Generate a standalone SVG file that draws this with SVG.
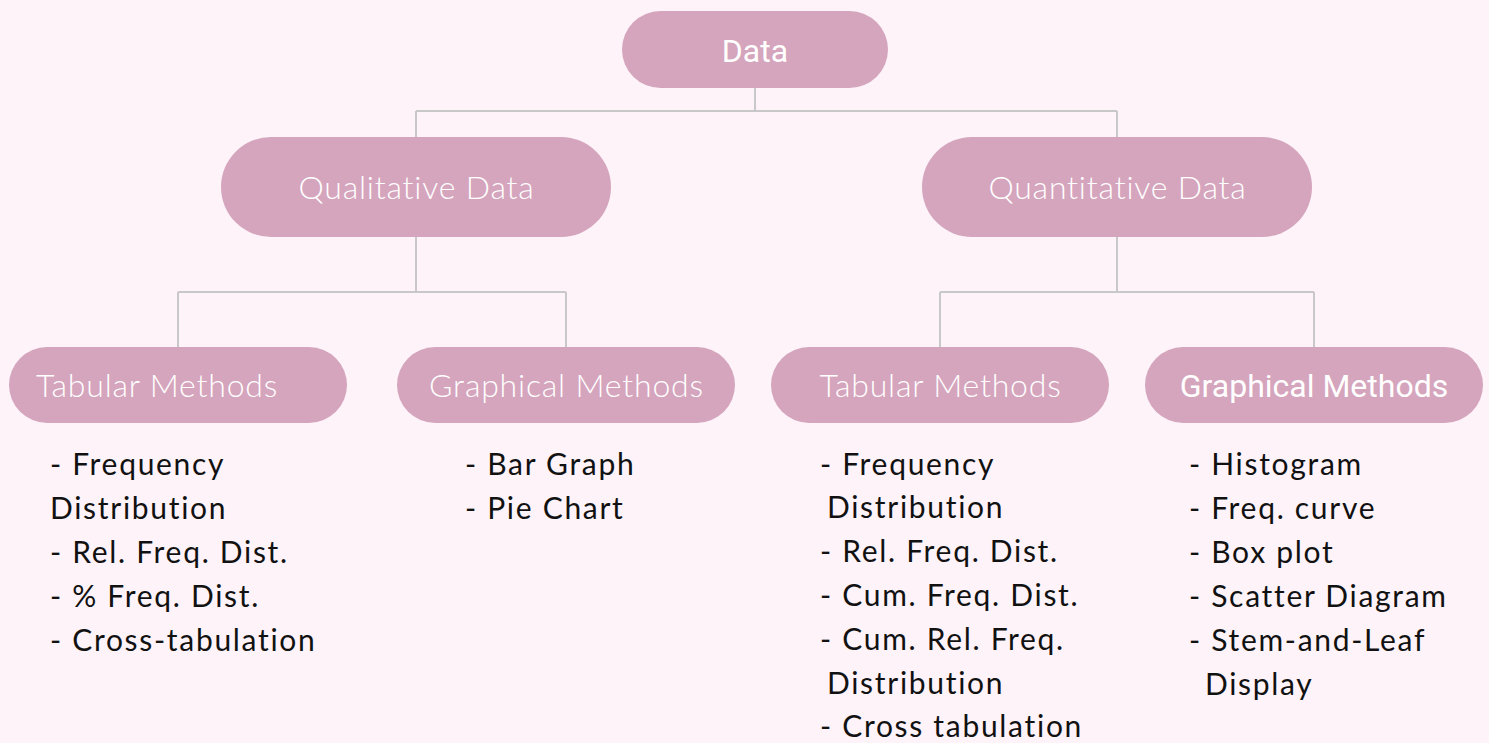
<svg xmlns="http://www.w3.org/2000/svg" width="1489" height="743" viewBox="0 0 1489 743">
<style>
.node{fill:#d5a5bd}
.lbl{font-family:Lato,"Open Sans","Liberation Sans",sans-serif;font-weight:300;font-size:32px;letter-spacing:0.8px;fill:#ffffff}
.lblr{font-family:Roboto,"Liberation Sans",sans-serif;font-size:32px;fill:#ffffff}
.list{font-family:Lato,"Open Sans","Liberation Sans",sans-serif;font-size:30px;letter-spacing:1.7px;fill:#111111}
.conn{fill:none;stroke:#c8c8c8;stroke-width:2}
</style>
<rect width="1489" height="743" fill="#fdf3f9"/>
<g id="connectors">
<path class="conn" d="M755 88V111M416 111H1117M416 111V137M1117 111V137"/>
<path class="conn" d="M416 237V292M178 292H566M178 292V347M566 292V347"/>
<path class="conn" d="M1117 237V292M940 292H1314M940 292V347M1314 292V347"/>
</g>
<g id="data"><rect class="node" x="622" y="11" width="266" height="77" rx="38.5"/><text class="lblr" x="755" y="62" text-anchor="middle">Data</text></g>
<g id="qualitative"><rect class="node" x="221" y="137" width="390" height="100" rx="50"/><text class="lbl" x="416.5" y="199" text-anchor="middle">Qualitative Data</text></g>
<g id="quantitative"><rect class="node" x="922" y="137" width="390" height="100" rx="50"/><text class="lbl" x="1117.5" y="199" text-anchor="middle">Quantitative Data</text></g>
<g id="tab-left"><rect class="node" x="9" y="347" width="338" height="76" rx="38"/><text class="lbl" x="36" y="397">Tabular Methods</text></g>
<g id="graph-left"><rect class="node" x="397" y="347" width="338" height="76" rx="38"/><text class="lbl" x="566.5" y="397" text-anchor="middle">Graphical Methods</text></g>
<g id="tab-right"><rect class="node" x="771" y="347" width="338" height="76" rx="38"/><text class="lbl" x="940.5" y="397" text-anchor="middle">Tabular Methods</text></g>
<g id="graph-right"><rect class="node" x="1145" y="347" width="338" height="76" rx="38"/><text class="lblr" x="1314" y="397" text-anchor="middle">Graphical Methods</text></g>
<g id="list-tab-left" class="list">
<text x="50" y="475">- Frequency</text>
<text x="50" y="519">Distribution</text>
<text x="50" y="563">- Rel. Freq. Dist.</text>
<text x="50" y="607">- % Freq. Dist.</text>
<text x="50" y="651">- Cross-tabulation</text>
</g>
<g id="list-graph-left" class="list">
<text x="465" y="475">- Bar Graph</text>
<text x="465" y="519">- Pie Chart</text>
</g>
<g id="list-tab-right" class="list">
<text x="820" y="475">- Frequency</text>
<text x="827" y="518">Distribution</text>
<text x="820" y="562">- Rel. Freq. Dist.</text>
<text x="820" y="606">- Cum. Freq. Dist.</text>
<text x="820" y="650">- Cum. Rel. Freq.</text>
<text x="827" y="694">Distribution</text>
<text x="820" y="737">- Cross tabulation</text>
</g>
<g id="list-graph-right" class="list">
<text x="1189" y="475">- Histogram</text>
<text x="1189" y="519">- Freq. curve</text>
<text x="1189" y="563">- Box plot</text>
<text x="1189" y="607">- Scatter Diagram</text>
<text x="1189" y="651">- Stem-and-Leaf</text>
<text x="1205" y="695">Display</text>
</g>
</svg>
